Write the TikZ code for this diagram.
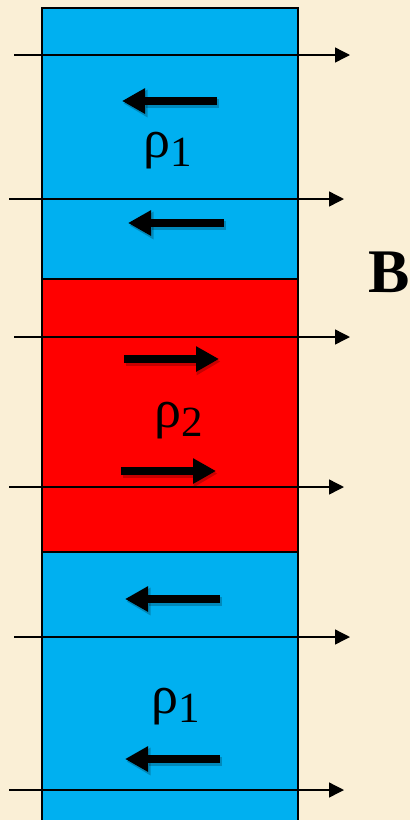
\documentclass[tikz,border=0pt]{standalone}
\usepackage{fontspec}
\setmainfont{Liberation Serif}
\usetikzlibrary{arrows.meta}
\definecolor{parch}{RGB}{250,239,214}
\definecolor{skyb}{RGB}{0,176,240}
\definecolor{redb}{RGB}{255,0,0}
\tikzset{
  blk/.style={draw=black, line width=1.5pt, anchor=north west, inner sep=0pt, minimum width=256pt},
  fieldline/.style={draw=black, line width=1.4pt, -{Triangle[length=15pt,width=15pt]}},
  magn/.style={draw=black, line width=8pt, -{Triangle[length=23pt,width=24pt]}},
  magnshadow/.style={draw=black, opacity=0.22, line width=9pt, -{Triangle[length=24pt,width=26pt]}},
  rholab/.style={anchor=base, inner sep=0pt, font=\fontsize{54}{54}\selectfont},
  blab/.style={anchor=base west, inner sep=0pt, font=\fontsize{62}{62}\selectfont\bfseries}
}
\newcommand{\subnum}[1]{\raisebox{-9pt}{\fontsize{43}{43}\selectfont #1}}
\begin{document}
\begin{tikzpicture}[x=1pt,y=-1pt]
\fill[parch] (0,0) rectangle (410,820);
\useasboundingbox (0,0) rectangle (410,820);
% blocks
\node[blk, fill=skyb, minimum height=271pt] (topblk) at (41,7) {};
\node[blk, fill=redb, minimum height=273pt] (midblk) at (41,278) {};
\node[blk, fill=skyb, minimum height=280pt] (botblk) at (41,551) {};
% field lines
\coordinate (f1a) at (14,55);  \coordinate (f1b) at (350,55);
\coordinate (f2a) at (9,199);  \coordinate (f2b) at (344,199);
\coordinate (f3a) at (14,337); \coordinate (f3b) at (350,337);
\coordinate (f4a) at (9,487);  \coordinate (f4b) at (344,487);
\coordinate (f5a) at (14,637); \coordinate (f5b) at (350,637);
\coordinate (f6a) at (9,790);  \coordinate (f6b) at (344,790);
\foreach \i in {1,...,6} { \draw[fieldline] (f\i a) -- (f\i b); }
% magnetisation arrows
\coordinate (m1a) at (217,101); \coordinate (m1b) at (122,101);
\coordinate (m2a) at (224,223); \coordinate (m2b) at (128,223);
\coordinate (m3a) at (124,359); \coordinate (m3b) at (219,359);
\coordinate (m4a) at (121,471); \coordinate (m4b) at (216,471);
\coordinate (m5a) at (220,599); \coordinate (m5b) at (125,599);
\coordinate (m6a) at (220,759); \coordinate (m6b) at (125,759);
\foreach \i in {1,...,6} {
  \draw[magnshadow] ([shift={(1.5,2.5)}]m\i a) -- ([shift={(1.5,2.5)}]m\i b);
  \draw[magn] (m\i a) -- (m\i b);
}
% labels
\node[rholab] (rho1t) at (168,157) {ρ\subnum{1}};
\node[rholab] (rho2) at (179,427) {ρ\subnum{2}};
\node[rholab] (rho1b) at (176,713) {ρ\subnum{1}};
\node[blab] (Blab) at (368,292) {B};
\end{tikzpicture}
\end{document}
